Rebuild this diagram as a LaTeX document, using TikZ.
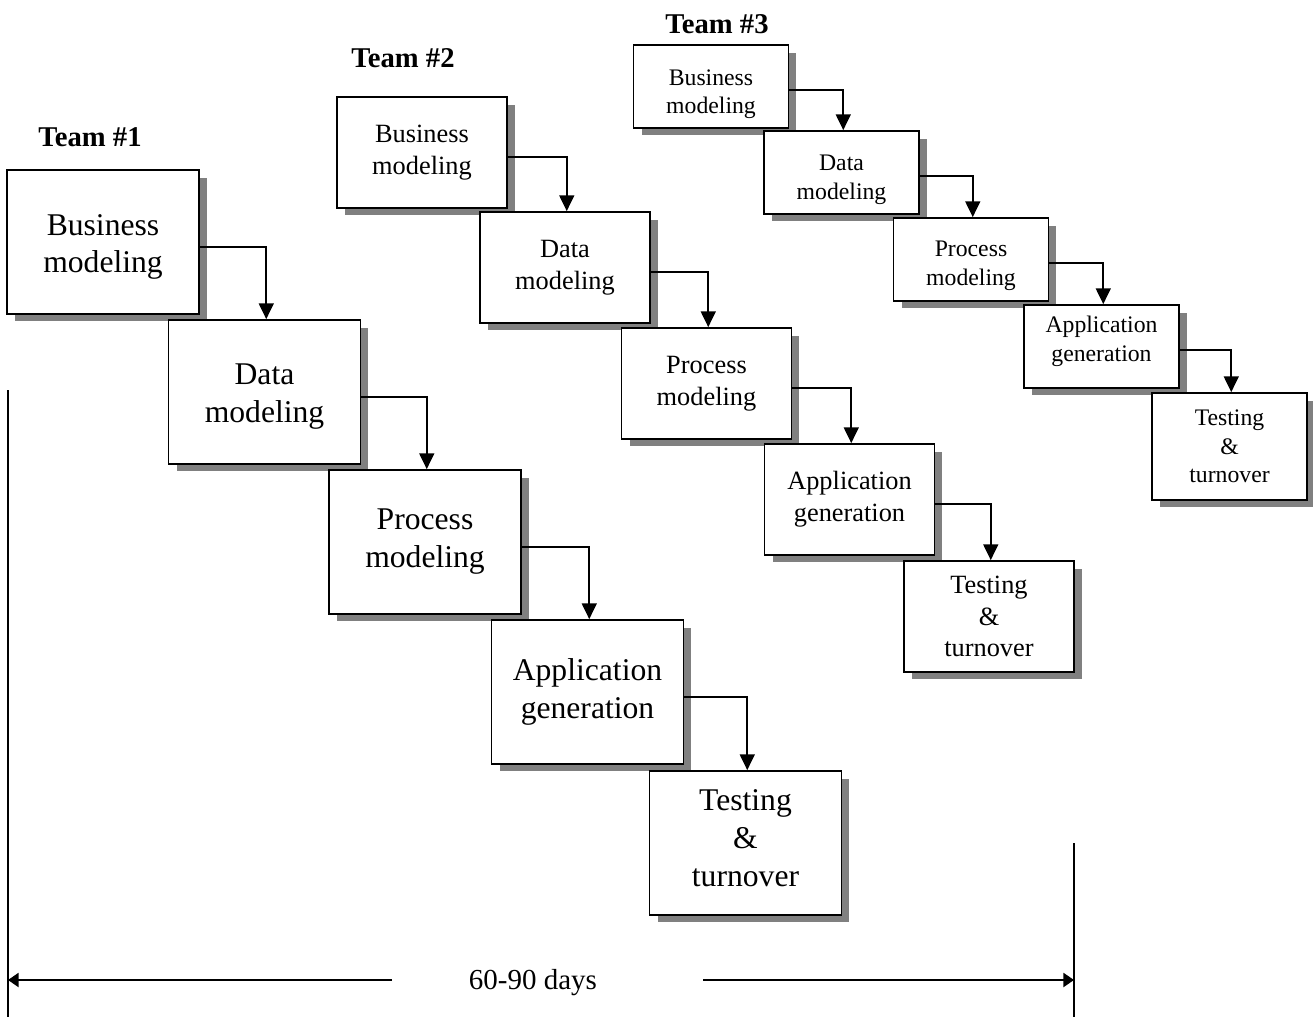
\documentclass[tikz,border=0pt]{standalone}
\usepackage{fontspec}
\setmainfont{Liberation Serif}
\usetikzlibrary{arrows.meta, shadows}

% lower (or raise) the lines of a box without changing the box
\newcommand{\nudgetext}[2]{\raisebox{#1}[\height][\depth]{\begin{tabular}{@{}c@{}}#2\end{tabular}}}

\begin{document}
\begin{tikzpicture}[x=0.02cm, y=-0.02cm, line width=1pt,
        >={Triangle[length=9pt, width=8.5pt]},
        box/.style={draw, fill=white, align=center, inner sep=0pt, line width=1pt,
            drop shadow={shadow xshift=0.16cm, shadow yshift=-0.15cm, fill=gray, opacity=1}},
        bigbox/.style={box, minimum width=3.84cm, minimum height=2.88cm, font=\fontsize{18}{21.6}\selectfont},
        midbox/.style={box, minimum width=3.4cm, minimum height=2.22cm, font=\fontsize{15}{18}\selectfont},
        smallbox/.style={box, minimum width=3.1cm, minimum height=1.66cm, font=\fontsize{13.5}{16.2}\selectfont},
        team/.style={font=\bfseries\fontsize{16.3}{19}\selectfont},
        flow/.style={->}]

        \useasboundingbox (0,0) rectangle (1313,1017);

        % ====================
        % 1. Team #1
        % ====================
        \node[team] (team1) at (90,137) {Team \#1};

        \node[bigbox] (b1) at (103,242)   {\nudgetext{-2.5pt}{Business\\modeling}};
        \node[bigbox] (d1) at (264.5,392) {\nudgetext{-2.3pt}{Data\\modeling}};
        \node[bigbox] (p1) at (425,542)   {Process\\modeling};
        \node[bigbox] (a1) at (587.5,692) {Application\\generation};
        \node[bigbox] (t1) at (745.5,843) {\nudgetext{1pt}{Testing\\\&\\turnover}};

        \draw[flow] ([yshift=-3pt]b1.east) -| ([xshift=1pt]d1.north);
        \draw[flow] ([yshift=-3pt]d1.east) -| ([xshift=1pt]p1.north);
        \draw[flow] ([yshift=-3pt]p1.east) -| ([xshift=1pt]a1.north);
        \draw[flow] ([yshift=-3pt]a1.east) -| ([xshift=1pt]t1.north);

        % ====================
        % 2. Team #2
        % ====================
        \node[team] (team2) at (403,58) {Team \#2};

        \node[midbox] (b2) at (422,152.5)   {Business\\modeling};
        \node[midbox] (d2) at (565,267.5)   {Data\\modeling};
        \node[midbox] (p2) at (706.5,383.5) {Process\\modeling};
        \node[midbox] (a2) at (849.5,499.5) {Application\\generation};
        \node[midbox] (t2) at (989,616.5)   {\nudgetext{-1.4pt}{Testing\\\&\\turnover}};

        \draw[flow] ([yshift=-2.5pt]b2.east) -| ([xshift=1pt]d2.north);
        \draw[flow] ([yshift=-2.5pt]d2.east) -| ([xshift=1pt]p2.north);
        \draw[flow] ([yshift=-2.5pt]p2.east) -| ([xshift=1pt]a2.north);
        \draw[flow] ([yshift=-2.5pt]a2.east) -| ([xshift=1pt]t2.north);

        % ====================
        % 3. Team #3
        % ====================
        \node[team] (team3) at (717,24) {Team \#3};

        \node[smallbox] (b3) at (711,86.5)     {\nudgetext{-4.3pt}{Business\\modeling}};
        \node[smallbox] (d3) at (841.5,172.5)  {\nudgetext{-4pt}{Data\\modeling}};
        \node[smallbox] (p3) at (971,259.5)    {\nudgetext{-3.3pt}{Process\\modeling}};
        \node[smallbox] (a3) at (1101.5,346.5) {\nudgetext{3pt}{Application\\generation}};
        \node[smallbox, minimum height=2.14cm] (t3) at (1229.5,446.5) {Testing\\\&\\turnover};

        \draw[flow] ([yshift=-2pt]b3.east) -| ([xshift=1pt]d3.north);
        \draw[flow] ([yshift=-2pt]d3.east) -| ([xshift=1pt]p3.north);
        \draw[flow] ([yshift=-2pt]p3.east) -| ([xshift=1pt]a3.north);
        \draw[flow] ([yshift=-2pt]a3.east) -| ([xshift=1pt]t3.north);

        % ====================
        % 4. Time span
        % ====================
        \coordinate (lefttop)  at (8,390);
        \coordinate (leftbot)  at (8,1017);
        \coordinate (righttop) at (1074,843);
        \coordinate (rightbot) at (1074,1017);
        \coordinate (spanl) at (392,980);
        \coordinate (spanr) at (703,980);

        \node[font=\fontsize{16.5}{20}\selectfont] (span) at (533,983) {60-90 days};

        \draw (lefttop) -- (leftbot);
        \draw (righttop) -- (rightbot);
        \draw[-{Triangle[length=6pt, width=8pt]}] (spanl) -- (spanl -| lefttop);
        \draw[-{Triangle[length=6pt, width=8pt]}] (spanr) -- (spanr -| righttop);

    \end{tikzpicture}
\end{document}
